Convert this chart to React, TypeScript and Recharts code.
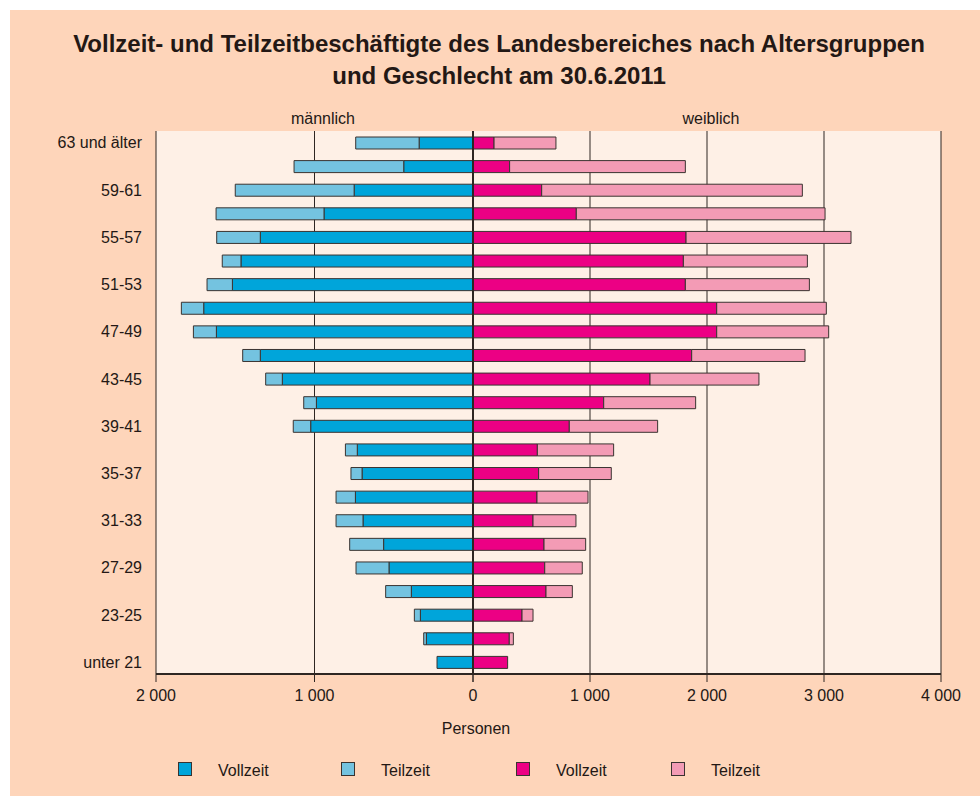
import { BarChart, Bar, XAxis, YAxis, CartesianGrid, ReferenceLine } from "recharts";

// ── Data ─────────────────────────────────────────────────────────────

const ageGroups = [
  "63 und älter", "61-63", "59-61", "57-59", "55-57", "53-55", "51-53", "49-51",
  "47-49", "45-47", "43-45", "41-43", "39-41", "37-39", "35-37", "33-35",
  "31-33", "29-31", "27-29", "25-27", "23-25", "21-23", "unter 21",
];

const maleVollzeit = [340, 437, 750, 940, 1342, 1464, 1518, 1699, 1619, 1342, 1203, 988, 1024, 730, 700, 742, 694, 564, 530, 389, 332, 294, 227];
const maleTeilzeit = [400, 692, 750, 681, 275, 118, 160, 141, 145, 111, 105, 80, 110, 75, 70, 122, 170, 214, 208, 162, 38, 17, 0];
const femaleVollzeit = [180, 313, 587, 883, 1821, 1798, 1815, 2083, 2083, 1869, 1513, 1117, 823, 550, 561, 547, 513, 607, 613, 624, 419, 310, 296];
const femaleTeilzeit = [529, 1502, 2228, 2126, 1410, 1060, 1060, 937, 957, 969, 931, 786, 755, 652, 621, 436, 367, 356, 321, 225, 94, 35, 0];

const maleTicks = [0, 1000, 2000];
const femaleTicks = [0, 1000, 2000, 3000, 4000];

const legendLabels = ["Vollzeit", "Teilzeit", "Vollzeit", "Teilzeit"];

// ── Style ────────────────────────────────────────────────────────────

const FONT = "'Liberation Sans', Arial, sans-serif";
const TEXT = "#231815";
const LINE = "#2e2622";
const PEACH = "#FED5BA";
const PLOT_BG = "#FEF0E6";
const MALE_FULL = "#00A5DA";
const MALE_PART = "#74C3E0";
const FEMALE_FULL = "#EC0084";
const FEMALE_PART = "#F39BB5";
const BAR_STROKE = "#3a3330";

const legendColors = [MALE_FULL, MALE_PART, FEMALE_FULL, FEMALE_PART];
const legendX = [178, 341, 516, 671];

function fmt(v: number): string {
  if (v < 1000) return String(v);
  return `${Math.floor(v / 1000)} ${String(v % 1000).padStart(3, "0")}`;
}

const rows = ageGroups.map((g, i) => ({
  group: g,
  mv: maleVollzeit[i],
  mt: maleTeilzeit[i],
  fv: femaleVollzeit[i],
  ft: femaleTeilzeit[i],
}));

const tickStyle = { fontSize: 16, fill: TEXT, fontFamily: FONT };

export default function App() {
  return (
    <div style={{ position: "absolute", left: 0, top: 0, width: 980, height: 796, background: "#fff", fontFamily: FONT, color: TEXT, overflow: "hidden" }}>
      <div style={{ position: "absolute", left: 10, top: 10, width: 970, height: 786, background: PEACH }} />

      {/* title */}
      <div style={{
        position: "absolute", left: 10, top: 28, width: 978, textAlign: "center",
        fontSize: 24, fontWeight: 700, lineHeight: "32px",
      }}>
        Vollzeit- und Teilzeitbeschäftigte des Landesbereiches nach Altersgruppen<br />
        und Geschlecht am 30.6.2011
      </div>

      {/* plot background */}
      <div style={{ position: "absolute", left: 156, top: 131, width: 785, height: 543, background: PLOT_BG }} />

      <div style={{ position: "absolute", left: 273, top: 111, width: 100, textAlign: "center", fontSize: 16, lineHeight: "16px" }}>männlich</div>
      <div style={{ position: "absolute", left: 661, top: 111, width: 100, textAlign: "center", fontSize: 16, lineHeight: "16px" }}>weiblich</div>

      {/* male side */}
      <div style={{ position: "absolute", left: 0, top: 100 }}>
        <BarChart width={480} height={620} data={rows} layout="vertical"
          margin={{ top: 31, right: 7, bottom: 6, left: 56 }} barSize={12}>
          <CartesianGrid horizontal={false} stroke={LINE} strokeWidth={1} />
          <XAxis xAxisId="top" orientation="top" type="number" domain={[0, 2000]} reversed
            height={0} tick={false} tickLine={false} axisLine={{ stroke: LINE, strokeWidth: 1.5 }} />
          <XAxis type="number" domain={[0, 2000]} ticks={maleTicks} reversed height={40}
            tickSize={8} tickMargin={8} tickFormatter={fmt} tick={tickStyle}
            tickLine={{ stroke: LINE }} axisLine={{ stroke: LINE, strokeWidth: 2 }} />
          <YAxis type="category" dataKey="group" width={100} interval={1}
            tickLine={false} axisLine={false} tickSize={0} tickMargin={14} tick={tickStyle} />
          <Bar dataKey="mv" stackId="m" fill={MALE_FULL} stroke={BAR_STROKE} strokeWidth={1} isAnimationActive={false} />
          <Bar dataKey="mt" stackId="m" fill={MALE_PART} stroke={BAR_STROKE} strokeWidth={1} isAnimationActive={false} />
        </BarChart>
      </div>

      {/* female side */}
      <div style={{ position: "absolute", left: 466, top: 100 }}>
        <BarChart width={514} height={620} data={rows} layout="vertical"
          margin={{ top: 31, right: 39, bottom: 6, left: 7 }} barSize={12}>
          <CartesianGrid horizontal={false} stroke={LINE} strokeWidth={1} />
          <XAxis xAxisId="top" orientation="top" type="number" domain={[0, 4000]}
            height={0} tick={false} tickLine={false} axisLine={{ stroke: LINE, strokeWidth: 1.5 }} />
          <XAxis type="number" domain={[0, 4000]} ticks={femaleTicks} height={40}
            tickSize={8} tickMargin={8} tickFormatter={(v: number) => (v === 0 ? "" : fmt(v))} tick={tickStyle}
            tickLine={{ stroke: LINE }} axisLine={{ stroke: LINE, strokeWidth: 2 }} />
          <YAxis type="category" dataKey="group" hide />
          <Bar dataKey="fv" stackId="f" fill={FEMALE_FULL} stroke={BAR_STROKE} strokeWidth={1} isAnimationActive={false} />
          <Bar dataKey="ft" stackId="f" fill={FEMALE_PART} stroke={BAR_STROKE} strokeWidth={1} isAnimationActive={false} />
          <ReferenceLine x={0} stroke={LINE} strokeWidth={2} />
        </BarChart>
      </div>

      <div style={{ position: "absolute", left: 426, top: 721, width: 100, textAlign: "center", fontSize: 16, lineHeight: "16px" }}>Personen</div>

      {/* legend */}
      {legendLabels.map((label, i) => (
        <div key={i} style={{ position: "absolute", left: legendX[i], top: 759, display: "flex", alignItems: "center" }}>
          <div style={{ width: 12, height: 12, background: legendColors[i], border: `1px solid ${BAR_STROKE}` }} />
          <span style={{ marginLeft: 26, fontSize: 16, lineHeight: "16px", marginTop: 4 }}>{label}</span>
        </div>
      ))}
    </div>
  );
}
